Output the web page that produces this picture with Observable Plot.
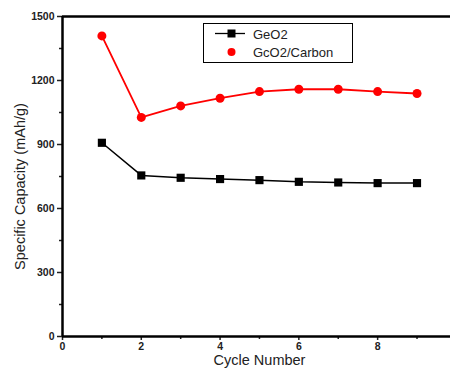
<!DOCTYPE html>
<html>
<head>
<meta charset="utf-8">
<script src="https://cdn.jsdelivr.net/npm/d3@7"></script>
<script src="https://cdn.jsdelivr.net/npm/@observablehq/plot@0.6"></script>
<style>
  html, body { margin: 0; padding: 0; background: #fff; }
  #chart { position: relative; width: 450px; height: 369px; }
  .legend { position: absolute; left: 203px; top: 23px; width: 148px; height: 38px;
    border: 1.5px solid #000; background: #fff; }
</style>
</head>
<body>
<div id="chart"></div>
<script>
const cycles = [1, 2, 3, 4, 5, 6, 7, 8, 9];
const geo2 = [908, 755, 744, 738, 733, 725, 722, 719, 719];
const geo2Carbon = [1409, 1027, 1081, 1117, 1148, 1159, 1159, 1148, 1139];
const seriesNames = ["GeO2", "GcO2/Carbon"];
const yTicks = [0, 300, 600, 900, 1200, 1500];
const yMinor = [150, 450, 750, 1050, 1350];
const xTicks = [0, 2, 4, 6, 8];
const xMinor = [1, 3, 5, 7, 9];

const dGe = cycles.map((c, i) => ({cycle: c, cap: geo2[i]}));
const dGeC = cycles.map((c, i) => ({cycle: c, cap: geo2Carbon[i]}));

const font = "Liberation Sans, Arial, sans-serif";

const plot = Plot.plot({
  width: 450,
  height: 369,
  marginLeft: 62,
  marginRight: 0,
  marginTop: 16,
  marginBottom: 33,
  style: {fontFamily: font, fontSize: "10px", color: "#222", background: "#fff"},
  x: {domain: [0, 9.85]},
  y: {domain: [0, 1500]},
  marks: [
    Plot.axisY(yTicks, {tickSize: 5, tickPadding: 3, tickFormat: d => String(d), fontWeight: "bold", fontSize: 10.5, label: null, strokeWidth: 1.5}),
    Plot.axisY(yMinor, {tickSize: 3, text: null, label: null, strokeWidth: 1.5}),
    Plot.axisX(xTicks, {tickSize: 4, tickPadding: 2, tickFormat: d => String(d), fontWeight: "bold", fontSize: 10.5, label: null, strokeWidth: 1.5}),
    Plot.axisX(xMinor, {tickSize: 3, text: null, label: null, strokeWidth: 1.5}),
    Plot.ruleY([0], {strokeWidth: 2.5, stroke: "#000"}),
    Plot.ruleY([1500], {strokeWidth: 2.5, stroke: "#000"}),
    Plot.ruleX([0], {strokeWidth: 2.5, stroke: "#000"}),
    Plot.line(dGe, {x: "cycle", y: "cap", stroke: "#000", strokeWidth: 1.5}),
    Plot.dot(dGe, {x: "cycle", y: "cap", symbol: "square", fill: "#000", r: 4.6}),
    Plot.line(dGeC, {x: "cycle", y: "cap", stroke: "#ff0000", strokeWidth: 1.8}),
    Plot.dot(dGeC, {x: "cycle", y: "cap", fill: "#ff0000", r: 4.5}),
    Plot.text(["Cycle Number"], {frameAnchor: "bottom", dy: 28, dx: 3, fontSize: 14.5, fill: "#222"}),
    Plot.text(["Specific Capacity (mAh/g)"], {frameAnchor: "left", textAnchor: "middle", dx: -42, dy: 10, rotate: -90, fontSize: 14.5, fill: "#222"})
  ]
});
document.getElementById("chart").appendChild(plot);

const leg = document.createElement("div");
leg.className = "legend";
leg.innerHTML = `
<svg width="148" height="38" style="position:absolute;left:0;top:0">
  <line x1="11" x2="41" y1="9.5" y2="9.5" stroke="#000" stroke-width="1.3"/>
  <rect x="23.5" y="5.5" width="8" height="8" fill="#000"/>
  <circle cx="27.5" cy="28" r="4" fill="#ff0000"/>
  <text x="49" y="14.5" font-size="13" font-family="${font}" fill="#222">${seriesNames[0]}</text>
  <text x="49" y="33" font-size="13" font-family="${font}" fill="#222">${seriesNames[1]}</text>
</svg>`;
document.getElementById("chart").appendChild(leg);
</script>
</body>
</html>
